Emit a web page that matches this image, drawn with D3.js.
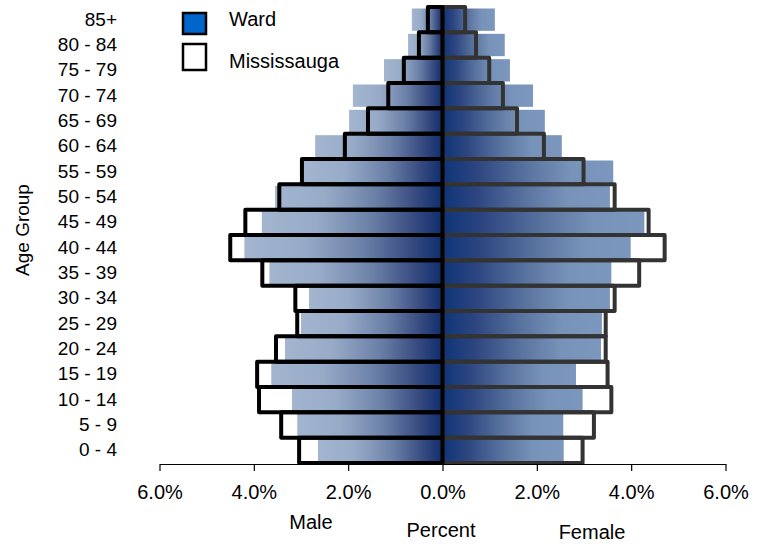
<!DOCTYPE html>
<html><head><meta charset="utf-8">
<script src="https://cdn.jsdelivr.net/npm/d3@7"></script>
<style>
html,body{margin:0;padding:0;background:#fff;}
svg{display:block;font-family:"Liberation Sans",Arial,sans-serif;}
</style></head>
<body><svg id="chart" width="762" height="544"></svg>
<script>
const ageGroups = ["0 - 4","5 - 9","10 - 14","15 - 19","20 - 24","25 - 29","30 - 34","35 - 39","40 - 44","45 - 49","50 - 54","55 - 59","60 - 64","65 - 69","70 - 74","75 - 79","80 - 84","85+"];
const wardMale   = [2.64,3.08,3.19,3.63,3.34,3.00,2.83,3.67,4.20,3.83,3.55,2.95,2.70,1.98,1.90,1.24,0.73,0.65];
const wardFemale = [2.57,2.56,2.97,2.83,3.36,3.38,3.55,3.58,3.99,4.28,3.55,3.62,2.53,2.17,1.92,1.43,1.32,1.11];
const missMale   = [3.04,3.42,3.89,3.93,3.53,3.08,3.12,3.82,4.50,4.18,3.46,2.98,2.07,1.58,1.15,0.82,0.50,0.31];
const missFemale = [2.97,3.21,3.58,3.50,3.46,3.46,3.65,4.17,4.71,4.37,3.65,2.99,2.15,1.58,1.28,0.99,0.71,0.48];
const xTicks = [-6,-4,-2,0,2,4,6];
const seriesNames = ["Ward","Mississauga"];

const svg = d3.select("#chart");
const x = d3.scaleLinear().domain([-6,6]).range([159.5,725.5]);
const y = d3.scaleBand().domain(ageGroups).range([463,7]);

const defs = svg.append("defs");
const gm = defs.append("linearGradient").attr("id","gMale").attr("x1","0").attr("x2","1").attr("y1","0").attr("y2","0");
[[0,"#a3b5cf"],[0.3,"#97abc8"],[0.6,"#6b80a7"],[0.85,"#35497f"],[1,"#0e2d6e"]].forEach(s=>gm.append("stop").attr("offset",s[0]).attr("stop-color",s[1]));
const gf = defs.append("linearGradient").attr("id","gFemale").attr("x1","0").attr("x2","1").attr("y1","0").attr("y2","0");
[[0,"#0e3478"],[0.2,"#2c4580"],[0.5,"#5a74a0"],[0.75,"#7893b9"],[1,"#7c97bd"]].forEach(s=>gf.append("stop").attr("offset",s[0]).attr("stop-color",s[1]));

const rows = ageGroups.map((a,i)=>({a, wm:wardMale[i], wf:wardFemale[i], mm:missMale[i], mf:missFemale[i]}));
const bw = y.bandwidth();
const pad = 1.5;

// Mississauga white fill
svg.append("g").selectAll("rect").data(rows).join("rect")
  .attr("x",d=>x(-d.mm)).attr("y",d=>y(d.a)).attr("width",d=>x(0)-x(-d.mm)).attr("height",bw).attr("fill","#fff");
svg.append("g").selectAll("rect").data(rows).join("rect")
  .attr("x",x(0)).attr("y",d=>y(d.a)).attr("width",d=>x(d.mf)-x(0)).attr("height",bw).attr("fill","#fff");

// Ward bars
svg.append("g").selectAll("rect").data(rows).join("rect")
  .attr("x",d=>x(-d.wm)).attr("y",d=>y(d.a)+pad).attr("width",d=>x(0)-x(-d.wm)).attr("height",bw-2*pad).attr("fill","url(#gMale)");
svg.append("g").selectAll("rect").data(rows).join("rect")
  .attr("x",x(0)).attr("y",d=>y(d.a)+pad).attr("width",d=>x(d.wf)-x(0)).attr("height",bw-2*pad).attr("fill","url(#gFemale)");

// Mississauga outlines
svg.append("g").selectAll("rect").data(rows).join("rect")
  .attr("x",x(0)).attr("y",d=>y(d.a)).attr("width",d=>x(d.mf)-x(0)).attr("height",bw)
  .attr("fill","none").attr("stroke","#333").attr("stroke-width",4).attr("stroke-linejoin","round");
svg.append("g").selectAll("rect").data(rows).join("rect")
  .attr("x",d=>x(-d.mm)).attr("y",d=>y(d.a)).attr("width",d=>x(0)-x(-d.mm)).attr("height",bw)
  .attr("fill","none").attr("stroke","#000").attr("stroke-width",4).attr("stroke-linejoin","round");

// X axis
const xa = svg.append("g").attr("transform","translate(0,464)")
  .call(d3.axisBottom(x).tickValues(xTicks).tickSize(7).tickSizeOuter(0).tickPadding(14)
    .tickFormat(d=>Math.abs(d).toFixed(1)+"%"));
xa.select(".domain").attr("stroke","#000").attr("stroke-width",1.2);
xa.selectAll(".tick line").attr("stroke","#000").attr("stroke-width",1.2);
xa.selectAll("text").attr("font-size",20).attr("fill","#000").attr("font-family","Liberation Sans, Arial, sans-serif");

// Y axis labels
const ya = svg.append("g").attr("transform","translate(119,0)")
  .call(d3.axisLeft(y).tickSize(0).tickPadding(2));
ya.select(".domain").remove();
ya.selectAll("text").attr("font-size",19).attr("fill","#000").attr("font-family","Liberation Sans, Arial, sans-serif");

// Axis titles
svg.append("text").attr("transform","translate(29,230) rotate(-90)").attr("text-anchor","middle")
  .attr("font-size",19).text("Age Group");
svg.append("text").attr("x",311).attr("y",529).attr("text-anchor","middle").attr("font-size",20).text("Male");
svg.append("text").attr("x",441).attr("y",537).attr("text-anchor","middle").attr("font-size",20).text("Percent");
svg.append("text").attr("x",592).attr("y",539).attr("text-anchor","middle").attr("font-size",20).text("Female");

// Legend
const leg = svg.append("g");
leg.append("rect").attr("x",183).attr("y",13).attr("width",23).attr("height",21).attr("fill","#0066cc").attr("stroke","#000").attr("stroke-width",2.5);
leg.append("rect").attr("x",183).attr("y",44).attr("width",23).attr("height",26).attr("fill","#fff").attr("stroke","#000").attr("stroke-width",2.5);
leg.append("text").attr("x",229).attr("y",26).attr("font-size",20).text(seriesNames[0]);
leg.append("text").attr("x",229).attr("y",68).attr("font-size",20).text(seriesNames[1]);
</script></body></html>
